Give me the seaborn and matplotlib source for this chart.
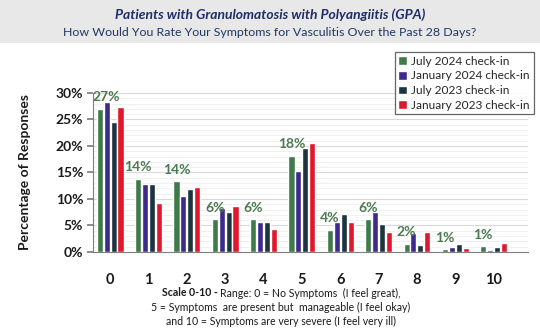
import matplotlib
matplotlib.use("Agg")
import matplotlib.pyplot as plt
import matplotlib.patches as mpatches
from matplotlib.ticker import PercentFormatter, MultipleLocator
import seaborn as sns
import pandas as pd

categories = ["0", "1", "2", "3", "4", "5", "6", "7", "8", "9", "10"]
series_names = ["July 2024 check-in", "January 2024 check-in", "July 2023 check-in", "January 2023 check-in"]
jul_2024 = [27.0, 13.8, 13.3, 6.2, 6.2, 18.1, 4.2, 6.2, 1.5, 0.5, 1.1]
jan_2024 = [28.3, 12.9, 10.5, 8.3, 5.6, 15.2, 5.6, 7.5, 3.5, 0.9, 0.3]
jul_2023 = [24.6, 12.8, 11.9, 7.5, 5.7, 19.7, 7.2, 5.2, 1.3, 1.4, 0.9]
jan_2023 = [27.4, 9.2, 12.3, 8.7, 4.3, 20.6, 5.7, 3.8, 3.8, 0.8, 1.6]
label_texts = ["27%", "14%", "14%", "6%", "6%", "18%", "4%", "6%", "2%", "1%", "1%"]

colors = ["#3F7A4A", "#3D2A8C", "#1C3340", "#E0182E"]

rows = []
for name, vals in zip(series_names, [jul_2024, jan_2024, jul_2023, jan_2023]):
    for c, v in zip(categories, vals):
        rows.append({"Score": c, "Value": v, "Series": name})
df = pd.DataFrame(rows)

sns.set_theme(style="white")
plt.rcParams["font.family"] = ["Lato", "DejaVu Sans"]

fig = plt.figure(figsize=(5.4, 3.31), dpi=100)
ax = fig.add_axes([0.172, 0.239, 0.806, 0.480])

sns.barplot(data=df, x="Score", y="Value", hue="Series", order=categories,
            hue_order=series_names, palette=colors, width=0.72, gap=0.12,
            ax=ax, legend=False, saturation=1)

ax.set_ylim(0, 30)
ax.set_xlim(-0.45, 10.9)
ax.yaxis.set_major_locator(MultipleLocator(5))
ax.yaxis.set_minor_locator(MultipleLocator(1))
ax.yaxis.set_major_formatter(PercentFormatter(decimals=0))
ax.grid(axis="y", which="major", color="#d9d9d9", linewidth=0.8)
ax.grid(axis="y", which="minor", color="#eeeeee", linewidth=0.6)
ax.set_axisbelow(True)
for s in ["top", "right"]:
    ax.spines[s].set_visible(False)
for s in ["left", "bottom"]:
    ax.spines[s].set_color("#7f7f7f")
    ax.spines[s].set_linewidth(0.8)
ax.tick_params(axis="y", which="major", left=True, length=4, color="#7f7f7f", labelsize=10, pad=3)
ax.tick_params(axis="y", which="minor", left=False)
ax.tick_params(axis="x", bottom=False, labelsize=10.5, pad=9)
for t in ax.get_yticklabels() + ax.get_xticklabels():
    t.set_fontweight("bold")
    t.set_color("#1a1a1a")
ax.set_xlabel("")
ax.set_ylabel("Percentage of Responses", fontsize=10, fontweight="bold", color="#1a1a1a", labelpad=18)

# data labels above the first series (green)
green_bars = ax.containers[0]
for i, (bar, txt) in enumerate(zip(green_bars, label_texts)):
    x = bar.get_x() + bar.get_width() / 2
    if i == 0:
        x += 0.17
    ax.annotate(txt, (x, bar.get_height()), xytext=(0, 4), textcoords="offset points",
                ha="center", va="bottom", fontsize=10, fontweight="bold", color="#4A7A50")

# legend
handles = [mpatches.Patch(facecolor=c, label=n) for c, n in zip(colors, series_names)]
leg = fig.legend(handles=handles, loc="upper right", bbox_to_anchor=(0.988, 0.842),
                 frameon=True, fancybox=False, fontsize=8.6, handlelength=0.75,
                 handleheight=0.75, handletextpad=0.35, borderpad=0.3, labelspacing=0.3,
                 borderaxespad=0)
leg.get_frame().set_edgecolor("#404040")
leg.get_frame().set_linewidth(0.9)

# title band
fig.patches.append(mpatches.Rectangle((0, 1 - 43 / 331), 1, 43 / 331, transform=fig.transFigure,
                                      facecolor="#e8e8e8", edgecolor="none", zorder=0))
fig.text(0.5, 1 - 15 / 331, "Patients with Granulomatosis with Polyangiitis (GPA)",
         ha="center", va="center", fontsize=10, fontweight="bold", fontstyle="italic", color="#1F2D6B")
fig.text(0.5, 1 - 33 / 331, "How Would You Rate Your Symptoms for Vasculitis Over the Past 28 Days?",
         ha="center", va="center", fontsize=8.9, color="#1F3864")

# caption
fig.canvas.draw()
renderer = fig.canvas.get_renderer()
cap_fs = 7.6
t_bold = fig.text(0, 0, "Scale 0-10 - ", fontsize=cap_fs, fontweight="bold", color="#1a1a1a")
t_reg = fig.text(0, 0, "Range: 0 = No Symptoms  (I feel great),", fontsize=cap_fs, color="#1a1a1a")
wb = t_bold.get_window_extent(renderer).width
wr = t_reg.get_window_extent(renderer).width
W = fig.bbox.width
cx = 281 / 540
start = cx - (wb + wr) / 2 / W
y1 = 1 - 293 / 331
t_bold.set_position((start, y1)); t_bold.set_va("center")
t_reg.set_position((start + wb / W, y1)); t_reg.set_va("center")
fig.text(cx, 1 - 307 / 331, "5 = Symptoms  are present but  manageable (I feel okay)",
         ha="center", va="center", fontsize=cap_fs, color="#1a1a1a")
fig.text(cx, 1 - 321 / 331, "and 10 = Symptoms are very severe (I feel very ill)",
         ha="center", va="center", fontsize=cap_fs, color="#1a1a1a")

fig.savefig("out.png", dpi=100)
